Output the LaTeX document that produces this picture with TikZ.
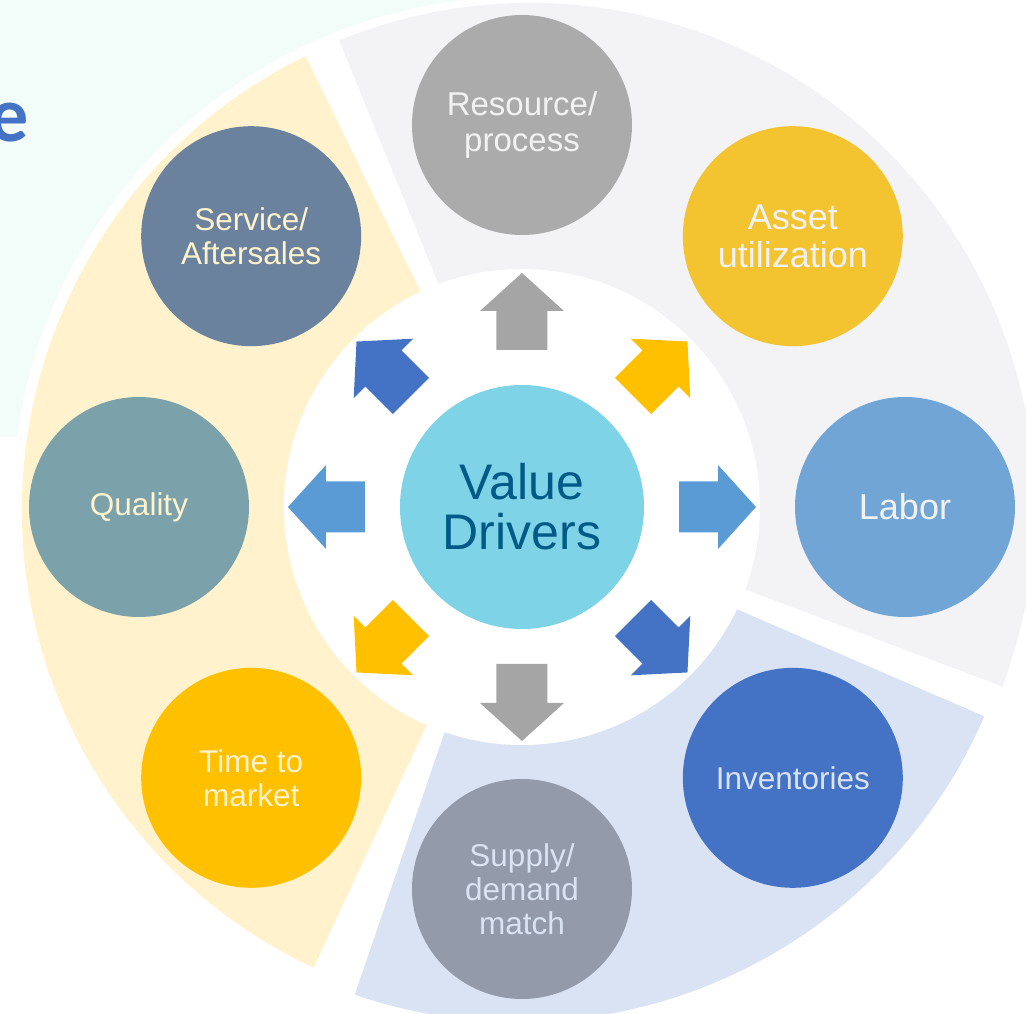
\documentclass[tikz,border=0pt]{standalone}
\usepackage{fontspec}
\setmainfont{Liberation Sans}
\newfontfamily\carlito{Carlito}
\definecolor{mint}{RGB}{242,252,249}
\definecolor{secY}{RGB}{255,242,204}
\definecolor{secG}{RGB}{243,243,246}
\definecolor{secB}{RGB}{218,227,243}
\definecolor{arrGray}{RGB}{165,165,165}
\definecolor{arrYel}{RGB}{255,192,0}
\definecolor{arrLB}{RGB}{91,155,213}
\definecolor{arrDB}{RGB}{68,114,196}
\definecolor{cCenter}{RGB}{126,211,230}
\definecolor{tCenter}{RGB}{0,90,135}
\definecolor{cRes}{RGB}{171,171,172}
\definecolor{cAsset}{RGB}{243,195,48}
\definecolor{cLabor}{RGB}{113,165,213}
\definecolor{cInv}{RGB}{68,114,196}
\definecolor{cSup}{RGB}{147,155,170}
\definecolor{cTtm}{RGB}{255,192,0}
\definecolor{cQual}{RGB}{123,162,170}
\definecolor{cServ}{RGB}{107,130,158}
\definecolor{tW}{RGB}{242,242,242}
\definecolor{tB}{RGB}{218,227,243}
\definecolor{tY}{RGB}{255,242,204}
\definecolor{titleblue}{RGB}{68,114,196}
\newcommand{\fsz}[2]{\fontsize{#1}{#2}\selectfont}
\begin{document}
\begin{tikzpicture}[x=1pt,y=1pt,
  drv/.style={circle, minimum size=220pt, inner sep=0pt, align=center},
  smallfont/.style={font=\fsz{31.5}{34}},
  bigfont/.style={font=\fsz{36}{38.5}},
  blockarrow/.style={draw=none}]
\useasboundingbox (-522,-507) rectangle (504,507);
% background
\fill[mint] (-522,507) rectangle (38,70);
\node[anchor=base east, inner sep=0pt, text=titleblue, font=\carlito\bfseries\fsz{78}{78}] (title) at (-493,365) {e};
\fill[white] (0,0) circle[radius=510];
% sectors
\fill[secY] (5,-3) -- ++(116:505) arc[start angle=116, end angle=245, radius=505] -- cycle;
\fill[secG] (8,-1) -- ++(112.2:505) arc[start angle=112.2, end angle=-20.7, radius=505] -- cycle;
\fill[secB] (-3,-8) -- ++(-23.4:507) arc[start angle=-23.4, end angle=-108.9, radius=507] -- cycle;
\fill[white] (0,0) circle[radius=238];
% centre
\node[circle, minimum size=244pt, inner sep=0pt, fill=cCenter, text=tCenter, align=center, font=\fsz{50}{50}] (vd) at (0,0) {Value\\Drivers};
% block arrows
\foreach \a/\c in {90/arrGray, 45/arrYel, 0/arrLB, -45/arrDB, -90/arrGray, -135/arrYel, 180/arrLB, 135/arrDB}
  \fill[\c, blockarrow, shift={(vd.center)}, rotate=\a] (157,-25.5) -- (196,-25.5) -- (196,-42) -- (234,0) -- (196,42) -- (196,25.5) -- (157,25.5) -- cycle;
% drivers
\node[drv, fill=cRes, text=tW, font=\fsz{33}{36}] (res) at (90:382) {Resource/\\process};
\node[drv, fill=cAsset, text=tW, bigfont] (asset) at (45:383) {Asset\\utilization};
\node[drv, fill=cLabor, text=tW, bigfont] (labor) at (0:383) {Labor};
\node[drv, fill=cInv, text=tB, smallfont] (inv) at (-45:383) {Inventories};
\node[drv, fill=cSup, text=tB, smallfont] (sup) at (-90:382) {Supply/\\demand\\match};
\node[drv, fill=cTtm, text=tY, smallfont] (ttm) at (-135:383) {Time to\\market};
\node[drv, fill=cQual, text=tY, smallfont] (qual) at (180:383) {Quality};
\node[drv, fill=cServ, text=tY, smallfont] (serv) at (135:383) {Service/\\Aftersales};
\end{tikzpicture}
\end{document}
